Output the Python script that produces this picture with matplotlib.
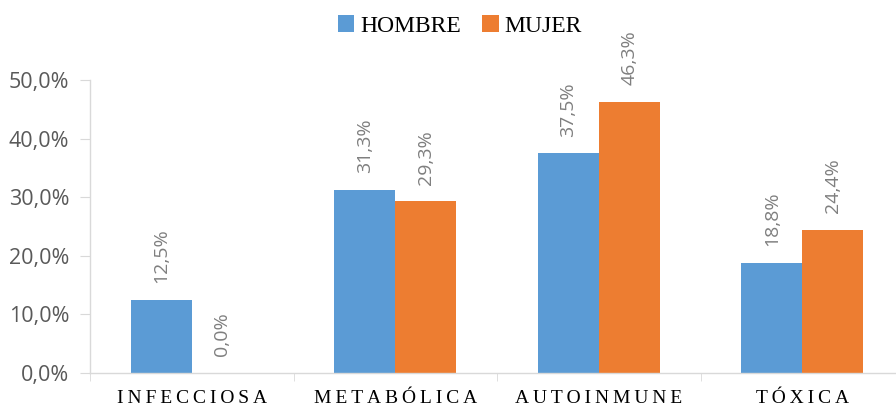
import numpy as np
import matplotlib.pyplot as plt
from matplotlib.ticker import FuncFormatter, FixedLocator

categorias = ["INFECCIOSA", "METABÓLICA", "AUTOINMUNE", "TÓXICA"]
hombre = [12.5, 31.3, 37.5, 18.8]
mujer = [0.0, 29.3, 46.3, 24.4]

AZUL = "#5B9BD5"
NARANJA = "#ED7D31"
EJE = "#D9D9D9"
GRIS = "#595959"


def espaciar(texto):
    # letras separadas con espacio fino
    return "\u2009".join(texto)


def pct(v, pos=None):
    return f"{v:.1f}%".replace(".", ",")


fig = plt.figure(figsize=(8.96, 4.07), dpi=100)
ax = fig.add_axes([90 / 896, 34 / 407, 814 / 896, 293 / 407])

x = np.arange(len(categorias))
ancho = 0.3
b1 = ax.bar(x - ancho / 2, hombre, ancho, color=AZUL, label="HOMBRE")
b2 = ax.bar(x + ancho / 2, mujer, ancho, color=NARANJA, label="MUJER")

for barras, valores in ((b1, hombre), (b2, mujer)):
    for rect, v in zip(barras, valores):
        ax.annotate(pct(v), (rect.get_x() + rect.get_width() / 2, v),
                    xytext=(0, 12), textcoords="offset points",
                    rotation=90, ha="center", va="bottom",
                    fontsize=14, color="#7F7F7F", family="Open Sans")

ax.set_xlim(-0.5, 3.5)
ax.set_ylim(0, 50)
ax.yaxis.set_major_locator(FixedLocator([0, 10, 20, 30, 40, 50]))
ax.yaxis.set_major_formatter(FuncFormatter(pct))

ax.xaxis.set_major_locator(FixedLocator(x))
ax.set_xticklabels([espaciar(c) for c in categorias],
                   family=["Liberation Serif", "DejaVu Serif"], fontsize=14)
ax.xaxis.set_minor_locator(FixedLocator(np.arange(-0.5, 4, 1)))
ax.tick_params(axis="x", which="major", length=0, pad=12, colors="black")
ax.tick_params(axis="x", which="minor", length=6, color=EJE)
ax.tick_params(axis="y", length=7, color=EJE, pad=8, labelcolor=GRIS,
               labelsize=15.5)
for lab in ax.get_yticklabels():
    lab.set_family("Open Sans")

for s in ("top", "right"):
    ax.spines[s].set_visible(False)
for s in ("left", "bottom"):
    ax.spines[s].set_color(EJE)
    ax.spines[s].set_linewidth(1.0)

fig.legend(loc="center", bbox_to_anchor=(460 / 896, 1 - 26 / 407),
           ncol=2, frameon=False, handlelength=0.7, handleheight=0.7,
           handletextpad=0.25, columnspacing=0.9,
           prop={"family": "Liberation Serif", "size": 17})

fig.savefig("out.png", dpi=100)
